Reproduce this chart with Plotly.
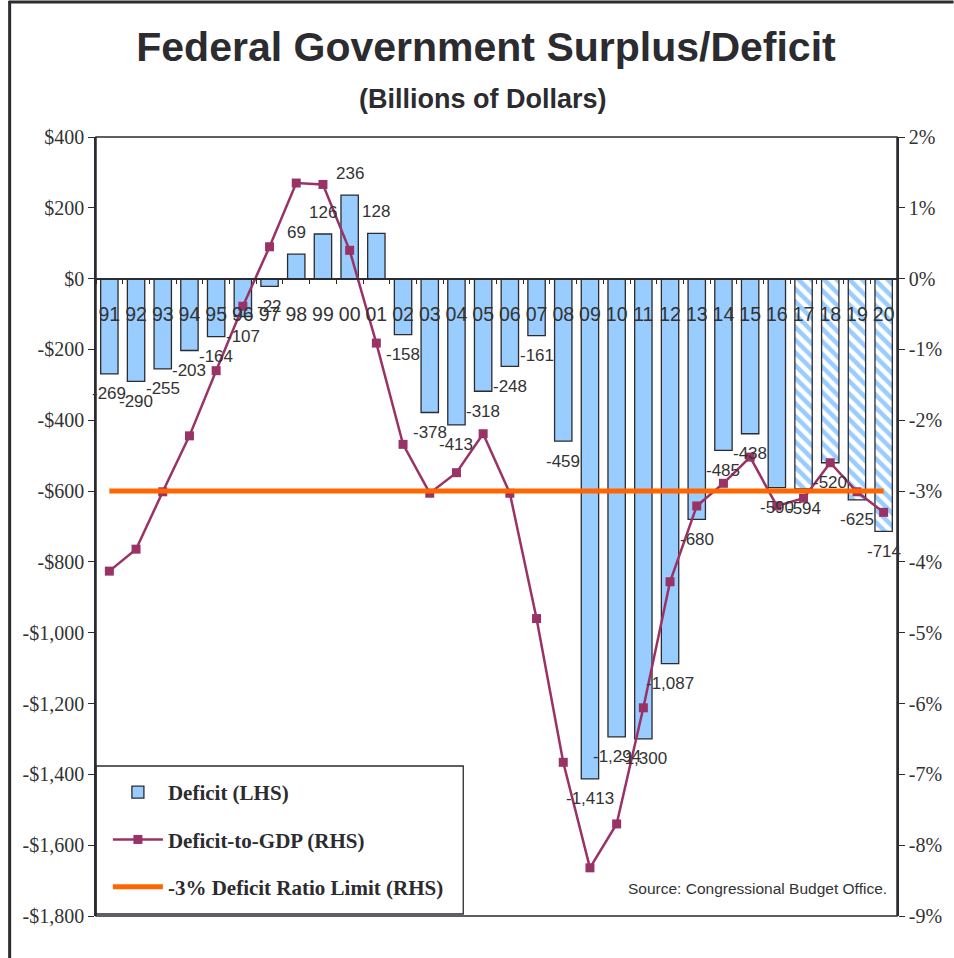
import plotly.graph_objects as go

years = ["91", "92", "93", "94", "95", "96", "97", "98", "99", "00",
         "01", "02", "03", "04", "05", "06", "07", "08", "09", "10",
         "11", "12", "13", "14", "15", "16", "17", "18", "19", "20"]
deficit = [-269, -290, -255, -203, -164, -107, -22, 69, 126, 236,
           128, -158, -378, -413, -318, -248, -161, -459, -1413, -1294,
           -1300, -1087, -680, -485, -438, -590, -594, -520, -625, -714]
deficit_labels = ["-269", "-290", "-255", "-203", "-164", "-107", "-22", "69", "126", "236",
                  "128", "-158", "-378", "-413", "-318", "-248", "-161", "-459", "-1,413", "-1,294",
                  "-1,300", "-1,087", "-680", "-485", "-438", "-590", "-594", "-520", "-625", "-714"]
projected = [False] * 26 + [True] * 4
deficit_gdp = [-4.13, -3.82, -3.01, -2.22, -1.30, -0.39, 0.45, 1.35, 1.33, 0.40,
               -0.91, -2.34, -3.03, -2.74, -2.19, -3.03, -4.80, -6.83, -8.32, -7.70,
               -6.06, -4.28, -3.21, -2.89, -2.52, -3.21, -3.10, -2.60, -3.01, -3.30]
limit = [-3.0] * len(years)

left_ticks = list(range(-1800, 401, 200))
left_ticktext = [("-" if v < 0 else "") + "$" + f"{abs(v):,}" for v in left_ticks]
right_ticks = list(range(-9, 3))
right_ticktext = [f"{v}%" for v in right_ticks]

DARK = "#2b2b30"
SANS = "Liberation Sans, Arial, sans-serif"
SERIF = "Liberation Serif, Times New Roman, serif"

W, H = 954, 958
L, R, T, B = 96, 51, 137, 42
pw, ph = W - L - R, H - T - B

def px_x(x):
    return (x - L) / pw

def px_y(y):
    return (H - B - y) / ph

fig = go.Figure()

fig.add_trace(go.Bar(
    x=years, y=deficit, name="Deficit (LHS)", legendgroup="a",
    marker=dict(
        color="#99ccff",
        line=dict(color=DARK, width=1.3),
        pattern=dict(shape=["\\" if p else "" for p in projected],
                     fgcolor="#99ccff", bgcolor="white", size=9, solidity=0.5,
                     fillmode="replace"),
    ),
    width=0.65, yaxis="y",
))

fig.add_trace(go.Scatter(
    x=years, y=deficit_gdp, name="Deficit-to-GDP (RHS)", legendgroup="b",
    mode="lines+markers", yaxis="y2",
    line=dict(color="#993366", width=2.5),
    marker=dict(symbol="square", size=9, color="#993366"),
))

fig.add_trace(go.Scatter(
    x=years, y=limit, name="-3% Deficit Ratio Limit (RHS)", legendgroup="c",
    mode="lines", yaxis="y2",
    line=dict(color="#ff6600", width=5),
))

annotations = []
for i, (v, lab) in enumerate(zip(deficit, deficit_labels)):
    annotations.append(dict(
        x=i, y=v, xref="x", yref="y", text=lab, showarrow=False,
        xanchor="center", yanchor="middle",
        yshift=22 if v > 0 else -20,
        font=dict(family=SANS, size=17, color="#333333"),
    ))

annotations.append(dict(
    x=px_x(486), y=px_y(99), xref="paper", yref="paper",
    xanchor="center", yanchor="middle",
    text="<b>(Billions of Dollars)</b>", showarrow=False,
    font=dict(family=SANS, size=27, color=DARK),
))
annotations.append(dict(
    x=px_x(762), y=px_y(888), xref="paper", yref="paper",
    xanchor="center", yanchor="middle",
    text="Source: Congressional Budget Office.", showarrow=False,
    font=dict(family=SANS, size=15.5, color="#333333"),
))

shapes = [
    dict(type="rect", xref="paper", yref="paper",
         x0=0, x1=px_x(466), y0=px_y(914), y1=px_y(766),
         line=dict(color=DARK, width=1.3), fillcolor="white", layer="below"),
    dict(type="rect", xref="paper", yref="paper", x0=0, x1=1, y0=0, y1=1,
         line=dict(color=DARK, width=1.5)),
    dict(type="line", xref="paper", yref="paper",
         x0=px_x(9), x1=px_x(9), y0=px_y(1), y1=px_y(960),
         line=dict(color=DARK, width=3)),
    dict(type="line", xref="paper", yref="paper",
         x0=px_x(8), x1=px_x(960), y0=px_y(2), y1=px_y(2),
         line=dict(color=DARK, width=3)),
]

fig.update_layout(
    width=W, height=H,
    margin=dict(l=L, r=R, t=T, b=B),
    paper_bgcolor="white", plot_bgcolor="white",
    title=dict(text="<b>Federal Government Surplus/Deficit</b>",
               x=486 / W, xanchor="center", y=1 - 47 / H, yanchor="middle",
               font=dict(family=SANS, size=41, color=DARK)),
    bargap=0.35,
    showlegend=True,
    legend=dict(x=px_x(108), y=px_y(772), xanchor="left", yanchor="top",
                bgcolor="rgba(0,0,0,0)", borderwidth=0,
                tracegroupgap=17, itemwidth=50,
                font=dict(family=SERIF, size=21, color=DARK, weight="bold"),
                traceorder="grouped"),
    xaxis=dict(
        type="category", anchor="free", position=px_y(278.6),
        range=[-0.5, len(years) - 0.5],
        showline=True, linecolor=DARK, linewidth=1.5,
        ticks="outside", tickson="boundaries", ticklen=5, tickcolor=DARK,
        ticklabelstandoff=18, tickangle=0,
        tickfont=dict(family=SANS, size=19.5, color="#333333"),
        showgrid=False, zeroline=False,
    ),
    yaxis=dict(
        range=[-1800, 400], tickvals=left_ticks, ticktext=left_ticktext,
        showline=True, linecolor=DARK, linewidth=1.5,
        ticks="outside", ticklen=6, tickcolor=DARK,
        tickfont=dict(family=SERIF, size=20, color="#333333"),
        showgrid=False, zeroline=False,
    ),
    yaxis2=dict(
        range=[-9, 2], tickvals=right_ticks, ticktext=right_ticktext,
        overlaying="y", side="right",
        showline=True, linecolor=DARK, linewidth=1.5,
        ticks="outside", ticklen=6, tickcolor=DARK,
        tickfont=dict(family=SERIF, size=20, color="#333333"),
        showgrid=False, zeroline=False,
    ),
    annotations=annotations,
    shapes=shapes,
)

fig.write_html("out.html")
